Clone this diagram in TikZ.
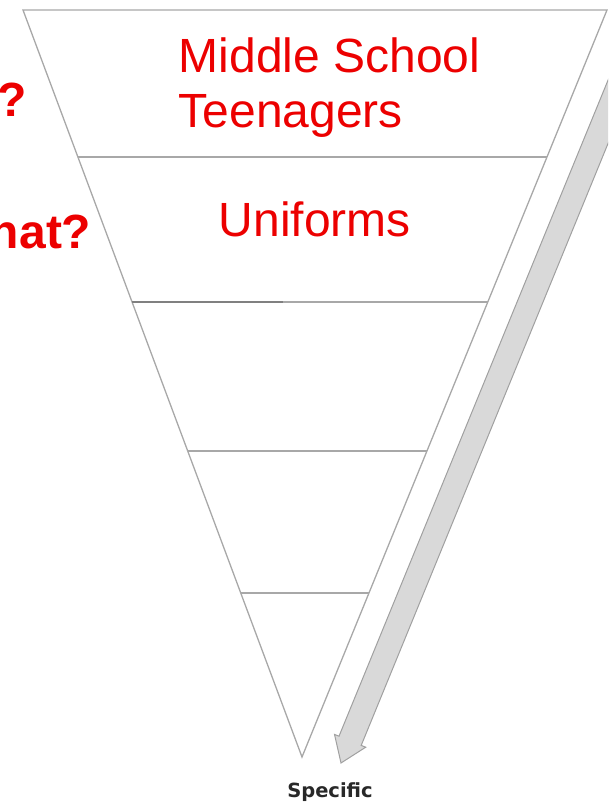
\documentclass[tikz,border=0pt]{standalone}
\usepackage{fontspec}
\setmainfont{Liberation Sans}
\newfontfamily\specfont{DejaVu Sans}
\usepackage{tikz}
\usetikzlibrary{arrows, calc}

\definecolor{edgegray}{RGB}{168,168,168}
\definecolor{bandgray}{RGB}{217,217,217}
\definecolor{bandline}{RGB}{160,160,160}
\definecolor{labelred}{RGB}{236,0,0}
\definecolor{specgray}{RGB}{40,40,40}

\begin{document}
\begin{tikzpicture}[x=1pt,y=-1pt,
        edge/.style={draw=edgegray,line width=1.3pt},
        band/.style={fill=bandgray,draw=bandline,line width=1pt,line join=miter},
        redtext/.style={text=labelred,inner sep=0pt,font=\fontsize{48}{57}\selectfont},
        asklabel/.style={text=labelred,inner sep=0pt,font=\bfseries\fontsize{48}{58}\selectfont}]

        \useasboundingbox (0,0) rectangle (608,803);
        \clip (0,0) rectangle (608,803);

        \coordinate (L_0) at (23,10);
        \coordinate (L_1) at (77.9,157);
        \coordinate (L_2) at (132.1,302);
        \coordinate (L_3) at (187.7,451);
        \coordinate (L_4) at (240.8,593);

        \coordinate (R_0) at (607,10);
        \coordinate (R_1) at (547,157);
        \coordinate (R_2) at (487.8,302);
        \coordinate (R_3) at (427,451);
        \coordinate (R_4) at (369,593);

        \coordinate (A) at (302,757);
        \coordinate (M_2) at (283,302);

        \coordinate (S_1) at (623.6,42.2);
        \coordinate (S_2) at (645.8,51.4);
        \coordinate (K_1) at (339.0,736.2);
        \coordinate (K_2) at (361.2,745.4);
        \coordinate (H_1) at (334.5,734.4);
        \coordinate (H_2) at (365.7,747.2);
        \coordinate (T) at (341,763);

        \draw[edge] (L_0) -- (R_0) -- (A) -- cycle;
        \draw[edge] (L_1) -- (R_1) (L_2) -- (R_2) (L_3) -- (R_3) (L_4) -- (R_4);
        \draw[edge,draw=gray] (L_2) -- (M_2);

        \filldraw[band] (S_1) -- (K_1) -- (H_1) -- (T) -- (H_2) -- (K_2) -- (S_2) -- cycle;

        \node[redtext,anchor=base west] (mid) at (178.5,72) {Middle School};
        \node[redtext,anchor=base west] (teen) at (178.5,127) {Teenagers};
        \node[redtext,anchor=base west] (unif) at (218.5,236) {Uniforms};

        \node[asklabel,anchor=base east] (who) at (27.5,116) {?};
        \node[asklabel,anchor=base east] (what) at (91.5,248) {What?};

        \node[anchor=base,inner sep=0pt,text=specgray,font=\specfont\bfseries\fontsize{19.5}{23}\selectfont] (spec) at (330,797) {Specific};
    \end{tikzpicture}
\end{document}
